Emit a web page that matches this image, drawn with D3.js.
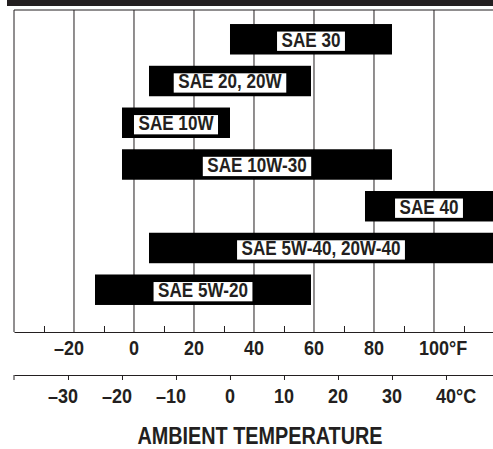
<!DOCTYPE html>
<html>
<head>
<meta charset="utf-8">
<script src="https://cdn.jsdelivr.net/npm/d3@7"></script>
<style>
  html, body { margin: 0; padding: 0; background: #fff; }
  svg { display: block; }
  text { font-family: "Liberation Sans", Arial, sans-serif; font-weight: bold; fill: #231f20; }
</style>
</head>
<body>
<svg id="chart" width="493" height="449"></svg>
<script>
// Oil viscosity grades and their recommended ambient temperature ranges (°F)
const grades = ["SAE 30", "SAE 20, 20W", "SAE 10W", "SAE 10W-30", "SAE 40", "SAE 5W-40, 20W-40", "SAE 5W-20"];
const lowF  = [32, 5, -4, -4, 77, 5, -13];
const highF = [86, 59, 32, 86, 122, 122, 59];

// Axis ticks
const gridF   = [-20, 0, 20, 40, 60, 80, 100];
const minorF  = [-30, -10, 10, 30, 50, 70, 90, 110];
const ticksC  = [-30, -20, -10, 0, 10, 20, 30, 40];
const unitF = "°F";
const unitC = "°C";
const axisTitle = "AMBIENT TEMPERATURE";

const ink = "#231f20";
const svg = d3.select("#chart");
const W = 493;

const plotTop = 10, axisFY = 332, axisCY = 375;
const x = d3.scaleLinear().domain([-40, 119.67]).range([14, W]);
const fToC = f => (f - 32) / 1.8;
const xc = d3.scaleLinear().domain(x.domain().map(fToC)).range(x.range());
const [fMin, fMax] = x.domain();

const y = d3.scaleBand()
  .domain(grades)
  .range([18.4, 310.6])
  .paddingInner(0.27)
  .paddingOuter(0.135);

// Condensed bold text: a regular bold face squeezed horizontally
function condensed(parent, str, px, py, size, sx, anchor, fill) {
  const t = parent.append("text")
    .attr("transform", `translate(${px},${py}) scale(${sx},1)`)
    .attr("text-anchor", anchor)
    .attr("font-size", size)
    .text(str);
  if (fill) t.attr("fill", fill);
  return { node: t, width: t.node().getComputedTextLength() * sx };
}

// Header band
svg.append("rect").attr("x", 7).attr("y", 0).attr("width", W - 7).attr("height", 6).attr("fill", ink);

// Frame: top rule and left edge
svg.append("line").attr("x1", x(fMin)).attr("x2", W).attr("y1", plotTop).attr("y2", plotTop)
  .attr("stroke", ink).attr("stroke-width", 1);
svg.append("line").attr("x1", x(fMin)).attr("x2", x(fMin)).attr("y1", plotTop).attr("y2", axisFY)
  .attr("stroke", ink).attr("stroke-width", 1);

// Vertical grid lines every 20°F
svg.append("g").selectAll("line").data(gridF).join("line")
  .attr("x1", d => x(d)).attr("x2", d => x(d))
  .attr("y1", plotTop).attr("y2", axisFY)
  .attr("stroke", ink).attr("stroke-width", 1);

// Fahrenheit axis with minor ticks pointing up
const axF = svg.append("g").attr("transform", `translate(0,${axisFY})`)
  .call(d3.axisBottom(x).tickValues(minorF).tickSizeInner(-6).tickSizeOuter(0).tickFormat(""));
axF.select(".domain").attr("stroke", ink);
axF.selectAll(".tick line").attr("stroke", ink);

// Celsius axis with ticks pointing down
const axC = svg.append("g").attr("transform", `translate(0,${axisCY})`)
  .call(d3.axisBottom(xc).tickValues(ticksC).tickSizeInner(5).tickSizeOuter(0).tickFormat(""));
axC.select(".domain").attr("stroke", ink);
axC.selectAll(".tick line").attr("stroke", ink);
axC.append("line").attr("x1", x(fMin)).attr("x2", x(fMin)).attr("y1", 0).attr("y2", 5).attr("stroke", ink);

// Tick labels: digits centred on the tick, sign hangs left, unit trails right
function tickLabels(values, scale, baseline, unit) {
  const g = svg.append("g");
  const size = 20, sx = 0.9;
  values.forEach((v, i) => {
    const cx = scale(v);
    const num = condensed(g, String(Math.abs(v)), cx, baseline, size, sx, "middle");
    if (v < 0) condensed(g, "–", cx - num.width / 2, baseline, size, sx, "end");
    if (i === values.length - 1) condensed(g, unit, cx + num.width / 2, baseline, size, sx, "start");
  });
}
tickLabels(gridF, x, 354.5, unitF);
tickLabels(ticksC, xc, 402.5, unitC);

// Axis title
condensed(svg, axisTitle, 260, 443.8, 24, 0.826, "middle");

// Range bars
const rows = grades.map((g, i) => ({
  grade: g,
  x0: x(Math.max(lowF[i], fMin)),
  x1: x(Math.min(highF[i], fMax)),
  y0: y(g)
}));

svg.append("g").selectAll("rect").data(rows).join("rect")
  .attr("x", d => d.x0).attr("y", d => d.y0)
  .attr("width", d => d.x1 - d.x0).attr("height", y.bandwidth())
  .attr("fill", "#000");

// Labels on white boxes centred in each bar
rows.forEach(d => {
  const cx = (d.x0 + d.x1) / 2;
  const base = d.y0 + y.bandwidth() / 2 + 7.3;
  const g = svg.append("g");
  const box = g.append("rect").attr("fill", "#fff");
  const t = condensed(g, d.grade, cx, base, 20, 0.855, "middle", "#000");
  box.attr("x", cx - t.width / 2 - 4.5).attr("width", t.width + 9)
    .attr("y", base - 15).attr("height", 19.3);
});
</script>
</body>
</html>
